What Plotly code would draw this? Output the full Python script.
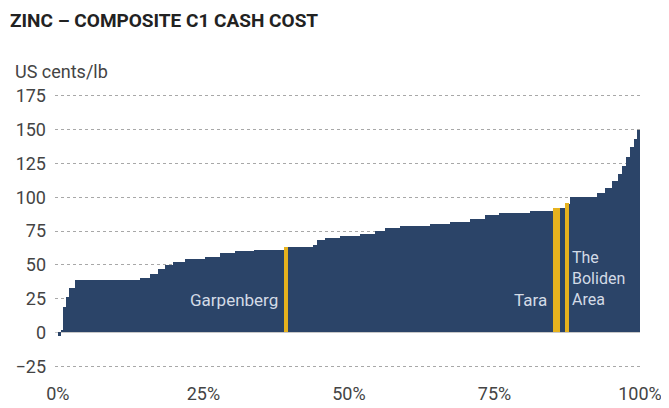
import plotly.graph_objects as go

# Cumulative share of production (%) where each cost step starts, and its C1 cash cost (US cents/lb)
step_start_pct = [0, 0.5, 0.9, 1.4, 1.9, 3.1, 14.1, 15.8, 17.2, 18.4, 19.8, 21.8, 25.3, 27.8,
                  30.4, 33.8, 39.3, 43.8, 44.5, 45.9, 48.5, 51.9, 54.5, 56.2, 58.8, 63.9, 67.4,
                  70.8, 73.4, 75.9, 81.1, 85.1, 87.1, 88.0, 92.6, 94.0, 95.2, 96.2, 96.9, 97.6,
                  98.3, 99.0, 99.5]
step_end_pct = step_start_pct[1:] + [100]
step_cost = [-3, 1.5, 18.6, 26, 33, 39, 40, 43, 47, 50, 52, 54, 56, 58.5,
             60, 61, 63, 65, 68, 70, 71, 72.5, 75, 77, 78.5, 80, 81.5,
             84, 86.5, 88, 90, 92, 95, 100, 103, 107, 112, 117, 123, 130,
             137, 143, 150]

# Highlighted operations
mine_names = ["Garpenberg", "Tara", "The Boliden Area"]
mine_pct = [39.2, 85.6, 87.5]
mine_width = [0.7, 1.2, 0.6]
mine_cost = [63, 92, 95.5]

y_ticks = [-25, 0, 25, 50, 75, 100, 125, 150, 175]
x_ticks = [0, 25, 50, 75, 100]
x_tick_labels = ["0%", "25%", "50%", "75%", "100%"]

NAVY = "#2b4468"
GOLD = "#e6b21e"
LABEL = "#d3dbe6"
FONT = "Roboto, DejaVu Sans"

mid = [(a + b) / 2 for a, b in zip(step_start_pct, step_end_pct)]
wid = [(b - a) * 1.02 for a, b in zip(step_start_pct, step_end_pct)]

fig = go.Figure()
fig.add_trace(go.Bar(
    x=mid, y=step_cost, width=wid, marker=dict(color=NAVY, line=dict(width=0)),
    hoverinfo="skip", showlegend=False))
fig.add_trace(go.Bar(
    x=mine_pct, y=mine_cost, width=mine_width, marker=dict(color=GOLD, line=dict(width=0)),
    showlegend=False, hoverinfo="skip"))

lab_font = dict(family=FONT, size=17, color=LABEL)
fig.add_annotation(x=mine_pct[0] - 1.0, y=24, text=mine_names[0], showarrow=False,
                   xanchor="right", yanchor="middle", font=lab_font)
fig.add_annotation(x=mine_pct[1] - 1.2, y=24, text=mine_names[1], showarrow=False,
                   xanchor="right", yanchor="middle", font=lab_font)
fig.add_annotation(x=mine_pct[2] + 0.5, y=24, text="<br>".join(mine_names[2].split(" ")),
                   showarrow=False, xanchor="left", yanchor="bottom", align="left", yshift=-11,
                   font=dict(family=FONT, size=16, color=LABEL))

# page body adds an 8px offset, so the figure is drawn 8px smaller
fig.update_layout(
    width=661, height=400,
    margin=dict(l=47, r=29, t=81, b=35),
    paper_bgcolor="white", plot_bgcolor="white",
    barmode="overlay", bargap=0,
    font=dict(family=FONT, color="#3a3a3a"),
    xaxis=dict(range=[-0.5, 100], tickvals=x_ticks, ticktext=x_tick_labels, showgrid=False,
               zeroline=False, showline=False, ticks="", tickfont=dict(size=18, color="#444"),
               ticklabelstandoff=8, automargin=False, fixedrange=True),
    yaxis=dict(range=[-30, 180], tickvals=y_ticks, showgrid=True, gridcolor="#a8a8a8",
               griddash="dot", gridwidth=1, zeroline=True, zerolinecolor="#c8c8c8", zerolinewidth=1,
               showline=False, ticks="", tickfont=dict(size=18, color="#444"),
               ticklabelstandoff=8, automargin=False, fixedrange=True),
)

fig.add_annotation(xref="paper", yref="paper", x=-0.072, y=1.0, xanchor="left", yanchor="bottom",
                   yshift=5, text="US cents/lb", showarrow=False,
                   font=dict(family=FONT, size=18, color="#444"))
fig.add_annotation(xref="paper", yref="paper", x=-0.0795, y=1.0, xanchor="left", yanchor="bottom",
                   yshift=55, text="<b>ZINC – COMPOSITE C1 CASH COST</b>", showarrow=False,
                   font=dict(family=FONT, size=19, color="#222"))

fig.write_html("out.html")
